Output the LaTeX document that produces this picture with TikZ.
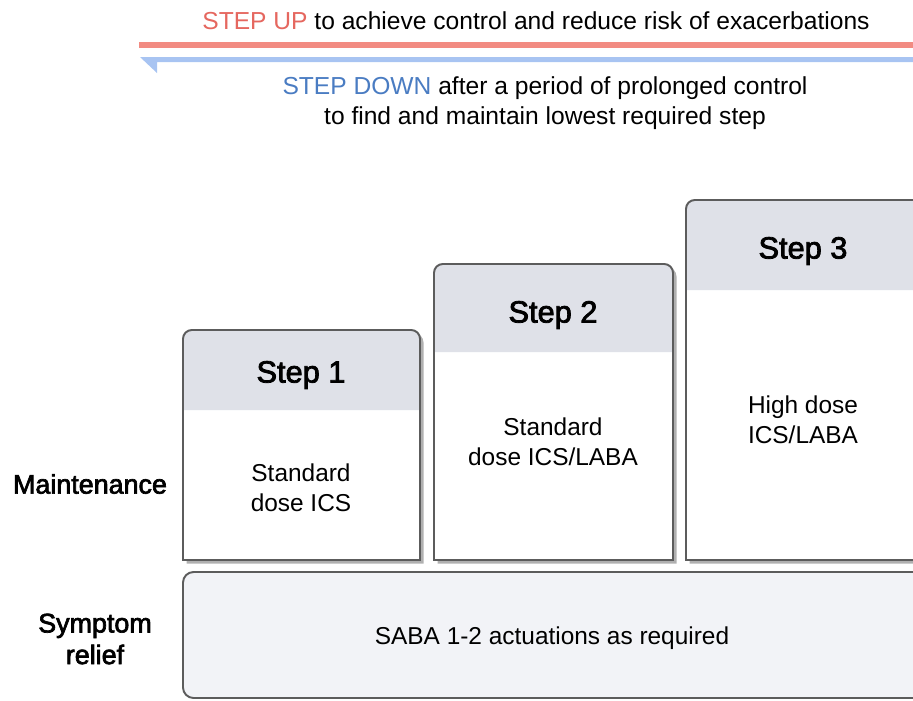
\documentclass[tikz,border=0pt]{standalone}
\usepackage{fontspec}
\setmainfont{Liberation Sans}
\newfontfamily\mediumfont{Liberation Sans}[FakeBold=2.5]

\definecolor{upred}{HTML}{E5675F}
\definecolor{upbar}{HTML}{F28B82}
\definecolor{downblue}{HTML}{4A7CC2}
\definecolor{downbar}{HTML}{A8C4F2}
\definecolor{headgray}{HTML}{DFE1E8}
\definecolor{reliefgray}{HTML}{F2F3F7}
\definecolor{framegray}{HTML}{5C5C5C}
\definecolor{shadowgray}{HTML}{B0B0B0}

\begin{document}
\begin{tikzpicture}[
  x=0.02cm, y=-0.02cm,
  note/.style={font=\fontsize{14}{17}\selectfont,align=center},
  steptitle/.style={font=\mediumfont\fontsize{17.5}{21}\selectfont},
  stepbody/.style={font=\fontsize{13.9}{17}\selectfont,align=center},
  rowlabel/.style={font=\mediumfont\fontsize{15.3}{18}\selectfont,align=center},
  stepframe/.style={draw=framegray,line width=1.1pt},
  boxshadow/.style={fill=shadowgray,xshift=0.07cm,yshift=-0.07cm}
]
  \clip (0,0) rectangle (913,700);

  % step up / step down bars
  \coordinate (upL) at (139,45);
  \coordinate (upR) at (930,45);
  \draw[upbar,line width=0.12cm] (upL) -- (upR);
  \coordinate (downL) at (140,57);
  \fill[downbar] (downL) -- (930,57) -- (930,62) -- (157,62) -- (157,73) -- cycle;

  \node[note] (stepup) at (536,21) {{\color{upred}STEP UP} to achieve control and reduce risk of exacerbations};
  \node[note] (stepdown) at (545,103) {{\color{downblue}STEP DOWN} after a period of prolonged control\\to find and maintain lowest required step};

  % step 1
  \fill[boxshadow] (183,560) [rounded corners=5pt] -- (183,330) -- (420,330) [sharp corners] -- (420,560) -- cycle;
  \fill[white] (183,560) [rounded corners=5pt] -- (183,330) -- (420,330) [sharp corners] -- (420,560) -- cycle;
  \fill[headgray] (183,410) [rounded corners=5pt] -- (183,330) -- (420,330) [sharp corners] -- (420,410) -- cycle;
  \draw[stepframe] (183,560) [rounded corners=5pt] -- (183,330) -- (420,330) [sharp corners] -- (420,560) -- cycle;

  % step 2
  \fill[boxshadow] (434,560) [rounded corners=5pt] -- (434,264) -- (673,264) [sharp corners] -- (673,560) -- cycle;
  \fill[white] (434,560) [rounded corners=5pt] -- (434,264) -- (673,264) [sharp corners] -- (673,560) -- cycle;
  \fill[headgray] (434,352) [rounded corners=5pt] -- (434,264) -- (673,264) [sharp corners] -- (673,352) -- cycle;
  \draw[stepframe] (434,560) [rounded corners=5pt] -- (434,264) -- (673,264) [sharp corners] -- (673,560) -- cycle;

  % step 3
  \fill[boxshadow] (686,560) [rounded corners=5pt] -- (686,200) -- (923,200) [sharp corners] -- (923,560) -- cycle;
  \fill[white] (686,560) [rounded corners=5pt] -- (686,200) -- (923,200) [sharp corners] -- (923,560) -- cycle;
  \fill[headgray] (686,290) [rounded corners=5pt] -- (686,200) -- (923,200) [sharp corners] -- (923,290) -- cycle;
  \draw[stepframe] (686,560) [rounded corners=5pt] -- (686,200) -- (923,200) [sharp corners] -- (923,560) -- cycle;

  % symptom relief band
  \draw[stepframe,fill=reliefgray,rounded corners=6pt] (183,572) rectangle (960,698);

  \node[steptitle] (step1) at (301,375) {Step 1};
  \node[stepbody] (dose1) at (301,488) {Standard\\dose ICS};
  \node[steptitle] (step2) at (553,315) {Step 2};
  \node[stepbody] (dose2) at (553,442) {Standard\\dose ICS/LABA};
  \node[steptitle] (step3) at (803,251) {Step 3};
  \node[stepbody] (dose3) at (803,420) {High dose\\ICS/LABA};

  \node[rowlabel] (maintenance) at (90,484) {Maintenance};
  \node[rowlabel] (relief) at (95,639) {Symptom\\relief};
  \node[stepbody] (saba) at (552,638) {SABA 1-2 actuations as required};
\end{tikzpicture}
\end{document}
